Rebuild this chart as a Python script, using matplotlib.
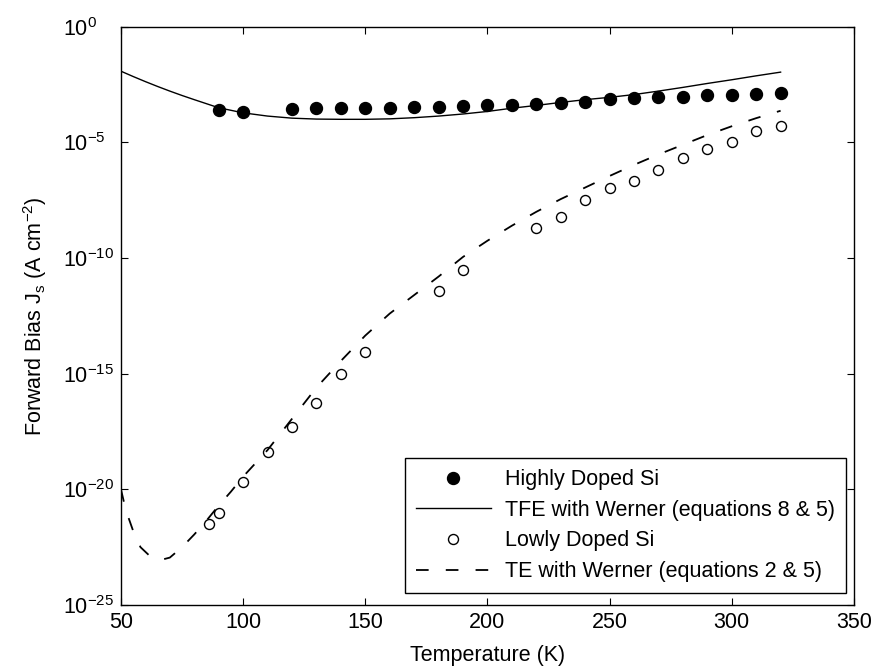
import matplotlib
matplotlib.use("Agg")
import matplotlib.pyplot as plt
import numpy as np

plt.rcParams['font.family'] = ['Liberation Sans', 'DejaVu Sans']
plt.rcParams['mathtext.fontset'] = 'custom'
plt.rcParams['mathtext.rm'] = 'Liberation Sans'
plt.rcParams['mathtext.it'] = 'Liberation Sans:italic'
plt.rcParams['mathtext.default'] = 'regular'

# highly doped Si (filled circles), log10 of Js
t_high = [90, 100, 120, 130, 140, 150, 160, 170, 180, 190, 200, 210,
          220, 230, 240, 250, 260, 270, 280, 290, 300, 310, 320]
logj_high = [-3.60, -3.67, -3.55, -3.53, -3.53, -3.50, -3.50, -3.47, -3.46,
             -3.42, -3.37, -3.37, -3.33, -3.30, -3.24, -3.13, -3.10, -3.03,
             -3.03, -2.97, -2.97, -2.92, -2.85]

# TFE model curve
t_tfe = [50, 55, 60, 65, 70, 75, 80, 90, 100, 110, 120, 130, 140, 150, 160,
         170, 180, 190, 200, 210, 220, 230, 240, 250, 260, 270, 280, 290,
         300, 310, 320]
logj_tfe = [-1.92, -2.15, -2.37, -2.58, -2.78, -2.97, -3.15, -3.50, -3.72,
            -3.86, -3.95, -3.99, -4.00, -4.00, -3.98, -3.93, -3.86, -3.77,
            -3.66, -3.52, -3.40, -3.27, -3.15, -3.05, -2.93, -2.78, -2.62,
            -2.45, -2.29, -2.12, -1.96]

# lowly doped Si (open circles)
t_low = [86, 90, 100, 110, 120, 130, 140, 150, 180, 190, 220, 230, 240,
         250, 260, 270, 280, 290, 300, 310, 320]
logj_low = [-21.50, -21.04, -19.70, -18.37, -17.29, -16.28, -15.03, -14.08,
            -11.41, -10.52, -8.72, -8.21, -7.49, -6.99, -6.67, -6.17, -5.66,
            -5.28, -5.00, -4.50, -4.29]

# TE model curve
t_te = [50, 52, 55, 58, 62, 66, 70, 75, 80, 85, 90, 95, 100, 110, 120, 130,
        140, 150, 160, 170, 180, 190, 200, 210, 220, 230, 240, 250, 260, 270,
        280, 290, 300, 310, 320]
logj_te = [-20.0, -20.9, -21.8, -22.5, -22.9, -23.06, -22.95, -22.5, -21.95,
           -21.35, -20.7, -20.1, -19.45, -18.3, -16.95, -15.6, -14.45, -13.35,
           -12.4, -11.6, -10.8, -9.95, -9.25, -8.6, -8.0, -7.45, -6.95, -6.45,
           -5.97, -5.52, -5.1, -4.68, -4.3, -3.95, -3.63]

fs = 15.5
fig = plt.figure(figsize=(8.74, 6.70), dpi=100)
ax = fig.add_axes([0.1384, 0.097, 0.977 - 0.1384, 0.960 - 0.097])

ax.semilogy(t_high, 10.0 ** np.array(logj_high), 'o', color='black',
            markersize=8.6, label='Highly Doped Si')
ax.semilogy(t_tfe, 10.0 ** np.array(logj_tfe), '-', color='black', lw=1.0,
            label='TFE with Werner (equations 8 & 5)')
ax.semilogy(t_low, 10.0 ** np.array(logj_low), 'o', markerfacecolor='white',
            markeredgecolor='black', markeredgewidth=1.0, markersize=7.2,
            label='Lowly Doped Si')
ax.semilogy(t_te, 10.0 ** np.array(logj_te), color='black', lw=1.3,
            linestyle=(0, (7, 9.5)), label='TE with Werner (equations 2 & 5)')

ax.set_xlim(50, 350)
ax.set_ylim(1e-25, 1e0)
ax.set_xticks([50, 100, 150, 200, 250, 300, 350])
ax.set_yticks([10.0 ** k for k in range(-25, 1, 5)])
ax.minorticks_off()
ax.tick_params(direction='in', top=True, right=True, length=5, width=0.8,
               labelsize=fs)
ax.tick_params(axis='x', pad=5)
ax.tick_params(axis='y', pad=42)
for lab in ax.get_yticklabels():
    lab.set_horizontalalignment('left')
for s in ax.spines.values():
    s.set_linewidth(1.0)

ax.set_xlabel('Temperature (K)', fontsize=fs, labelpad=9)
ax.set_ylabel('Forward Bias J$_s$ (A cm$^{-2}$)', fontsize=fs, labelpad=10)

leg = ax.legend(loc='lower right', bbox_to_anchor=(0.989, 0.021),
                fontsize=fs, fancybox=False, edgecolor='black', framealpha=1,
                numpoints=1, handlelength=3.5, labelspacing=0.45,
                borderpad=0.5, handletextpad=0.65, borderaxespad=0)
leg.get_frame().set_linewidth(1.0)

fig.savefig('out.png', dpi=100)
